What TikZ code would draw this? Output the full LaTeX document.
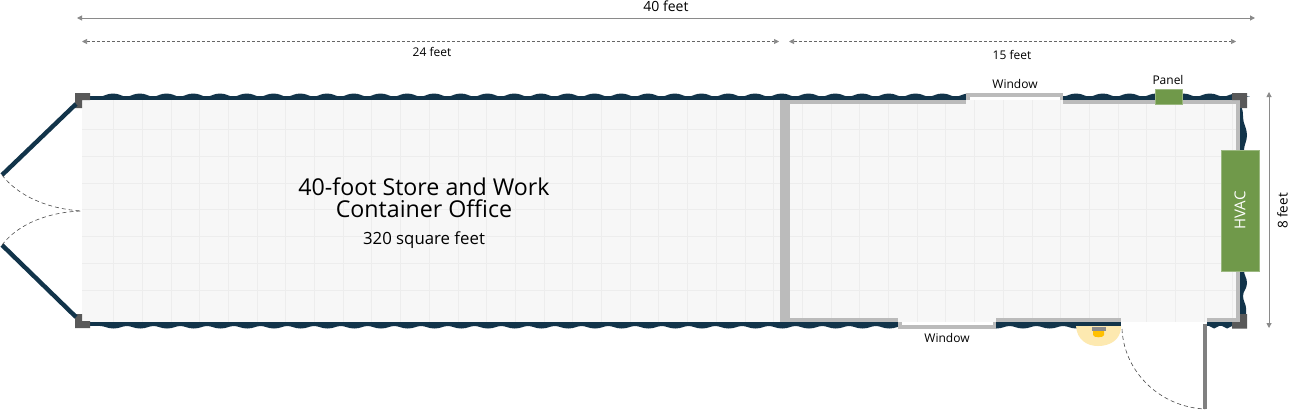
\documentclass[tikz,border=0pt]{standalone}
\usepackage{fontspec}
\setmainfont{Open Sans}
\usetikzlibrary{arrows.meta}
\definecolor{wallc}{HTML}{12344A}
\definecolor{cornerc}{HTML}{595959}
\definecolor{innerc}{HTML}{BBBBBB}
\definecolor{floorc}{HTML}{F7F7F7}
\definecolor{gridc}{HTML}{EDEDED}
\definecolor{greenc}{HTML}{70994A}
\definecolor{dimc}{HTML}{8A8A8A}
\definecolor{glowc}{HTML}{FDE9B0}
\definecolor{lampc}{HTML}{8C8C8C}
\definecolor{bulbc}{HTML}{FFC000}
\tikzset{
  wallline/.style={draw=wallc,line width=4.4pt},
  swing/.style={draw=black!70,line width=0.6pt,dash pattern=on 4pt off 3pt},
  dimsolid/.style={draw=dimc,line width=1pt,{Triangle[length=5pt,width=5pt,color=dimc]}-{Triangle[length=5pt,width=5pt,color=dimc]}},
  dimdash/.style={draw=black!60,line width=0.7pt,dash pattern=on 3pt off 2pt,{Triangle[length=5pt,width=5pt,color=dimc]}-{Triangle[length=5pt,width=5pt,color=dimc]}},
  lbl/.style={font=\fontsize{12}{12}\selectfont,text=black,inner sep=0pt},
  biglbl/.style={font=\fontsize{14}{14}\selectfont,text=black,inner sep=0pt},
  greenbox/.style={fill=greenc,draw=greenc!70!white,line width=0.6pt,inner sep=0pt},
}
\begin{document}
\begin{tikzpicture}[x=1pt,y=-1pt]
\useasboundingbox (0,0) rectangle (1292,410);
\fill[white] (0,0) rectangle (1292,410);
% floor
\fill[floorc] (82,100) rectangle (1236,322);
\foreach \i in {0,...,39}{
  \pgfmathsetmacro\gx{113.5+28.7*\i}
  \ifdim\gx pt<1236pt \draw[gridc,line width=0.8pt] (\gx,100) -- (\gx,322);\fi
}
\foreach \gy in {129,156,183,209.5,236,263,290}{
  \draw[gridc,line width=0.8pt] (82,\gy) -- (1236,\gy);
}
% corrugated walls: top and bottom
\fill[wallc] (82,96) rectangle (1240,100);
\fill[wallc] (82,322) rectangle (1121,326);
\fill[wallc] (1207,322) rectangle (1240,326);
\foreach \i in {0,...,42}{
  \pgfmathsetmacro\bx{99.5+26.75*\i}
  \fill[wallc] (\bx,96.5) .. controls (\bx+5,96.5) and (\bx+7,93.5) .. (\bx+13.5,93.5)
     .. controls (\bx+20,93.5) and (\bx+22,96.5) .. (\bx+26.75,96.5) -- cycle;
}
\foreach \i in {0,...,37}{
  \pgfmathsetmacro\bx{100+26.75*\i}
  \fill[wallc] (\bx,326) .. controls (\bx+5,326) and (\bx+7,328.5) .. (\bx+13.5,328.5)
     .. controls (\bx+20,328.5) and (\bx+22,326) .. (\bx+26.75,326) -- cycle;
}
\foreach \i in {0,1}{
  \pgfmathsetmacro\bx{1207+13*\i}
  \fill[wallc] (\bx,325) .. controls (\bx+3,325) and (\bx+4,328.5) .. (\bx+7,328.5)
     .. controls (\bx+10,328.5) and (\bx+11,325) .. (\bx+14,325) -- cycle;
}
% right wall
\fill[wallc] (1240,104) .. controls (1243,110) and (1243,112) .. (1243,117)
  .. controls (1243,124) and (1247,128) .. (1247,135)
  .. controls (1247,141) and (1244,145) .. (1244,150) -- (1240,150) -- cycle;
\fill[wallc] (1240,271) -- (1244,271) .. controls (1244,275) and (1247,278) .. (1247,283)
  .. controls (1247,289) and (1243,291) .. (1243,296)
  .. controls (1243,301) and (1246,304) .. (1246,308)
  -- (1246,316) -- (1240,316) -- cycle;
% door opening
\fill[white] (1121.5,322) rectangle (1207,334);
% interior walls
\fill[innerc] (780,100) rectangle (790,322);
\fill[innerc] (780,100) rectangle (966,104);
\fill[innerc] (1063,100) rectangle (1240,104);
\fill[innerc] (1236,100) rectangle (1240,322);
\fill[innerc] (780,318) rectangle (898,322);
\fill[innerc] (996,318) rectangle (1121,322);
\fill[innerc] (1207,318) rectangle (1240,322);
% windows
\fill[white] (966,92) rectangle (1063,100);
\fill[innerc] (966,93) rectangle (1063,97);
\fill[innerc] (966,93) rectangle (970,100);
\fill[innerc] (1060,93) rectangle (1063,100);
\fill[white] (898,322) rectangle (996,330);
\fill[innerc] (898,325) rectangle (996,329);
\fill[innerc] (898,322) rectangle (902,329);
\fill[innerc] (993,322) rectangle (996,329);
% corners
\fill[cornerc] (75,93) -- (90,93) -- (90,100) -- (82,100) -- (82,108) -- (75,108) -- cycle;
\fill[cornerc] (75,314) -- (82,314) -- (82,321) -- (90,321) -- (90,328) -- (75,328) -- cycle;
\fill[cornerc] (1232,93) -- (1247,93) -- (1247,108) -- (1240,108) -- (1240,100) -- (1232,100) -- cycle;
\fill[cornerc] (1240,314) -- (1247,314) -- (1247,328.5) -- (1232,328.5) -- (1232,322) -- (1240,322) -- cycle;
% named points
\coordinate (dlhinge) at (76,104);
\coordinate (dlopen) at (2,175);
\coordinate (drhinge) at (76,317);
\coordinate (dropen) at (2,245);
\coordinate (meet) at (82,211);
\coordinate (dstart) at (1122,329);
\coordinate (dtop) at (1205,323.5);
\coordinate (dend) at (1205,409);
\coordinate (a40l) at (77,18);
\coordinate (a40r) at (1255,18);
\coordinate (a24l) at (82,41.5);
\coordinate (a24r) at (779,41.5);
\coordinate (a15l) at (789,41.5);
\coordinate (a15r) at (1236,41.5);
\coordinate (a8t) at (1269,92);
\coordinate (a8b) at (1269,328);
% left doors
\draw[wallline] (dlhinge) -- (dlopen);
\draw[wallline] (drhinge) -- (dropen);
\draw[swing] (dlopen) .. controls (18,196) and (48,209) .. (meet);
\draw[swing] (dropen) .. controls (18,224) and (48,212) .. (meet);
% right door
\draw[draw=black!50,line width=4pt] (dtop) -- (dend);
\draw[swing] (dstart) .. controls (1124,372) and (1160,407) .. (dend);
% light
\fill[glowc] (1076,326) .. controls (1077,340) and (1087,346) .. (1098,346)
   .. controls (1110,346) and (1120,340) .. (1121,328) -- (1121,326) -- cycle;
\fill[wallc] (1076,322) rectangle (1121,326);
\fill[lampc] (1092,327) rectangle (1106,331);
\fill[bulbc] (1093,331) -- (1104,331) -- (1104,335) .. controls (1104,338) and (1093,338) .. (1093,335) -- cycle;
% equipment
\node[greenbox,minimum width=27pt,minimum height=15pt] (panel) at (1168.5,96.5) {};
\node[greenbox,minimum width=38pt,minimum height=121pt] (hvac) at (1240,210.5) {};
\node[rotate=90,text=white,font=\fontsize{15}{15}\selectfont,inner sep=0pt] (hvactext) at (hvac.center) {HVAC};
% dimensions
\draw[dimsolid] (a40l) -- (a40r);
\draw[dimdash] (a24l) -- (a24r);
\draw[dimdash] (a15l) -- (a15r);
\draw[dimsolid] (a8t) -- (a8b);
% labels
\node[biglbl] (l40) at (666,6.5) {40 feet};
\node[lbl] (l24) at (432,52) {24 feet};
\node[lbl] (l15) at (1012,55) {15 feet};
\node[lbl,font=\fontsize{13.5}{13.5}\selectfont,rotate=90] (l8) at (1282.5,211) {8 feet};
\node[lbl] (lw1) at (1015,84) {Window};
\node[lbl] (lp) at (1168,80) {Panel};
\node[lbl] (lw2) at (947,338) {Window};
\node[inner sep=0pt,font=\fontsize{23.2}{23.2}\selectfont] (t1) at (424,186.5) {40-foot Store and Work};
\node[inner sep=0pt,font=\fontsize{23.2}{23.2}\selectfont] (t2) at (424,209) {Container Office};
\node[inner sep=0pt,font=\fontsize{16.8}{16.8}\selectfont] (t3) at (424,240.5) {320 square feet};
\end{tikzpicture}
\end{document}
